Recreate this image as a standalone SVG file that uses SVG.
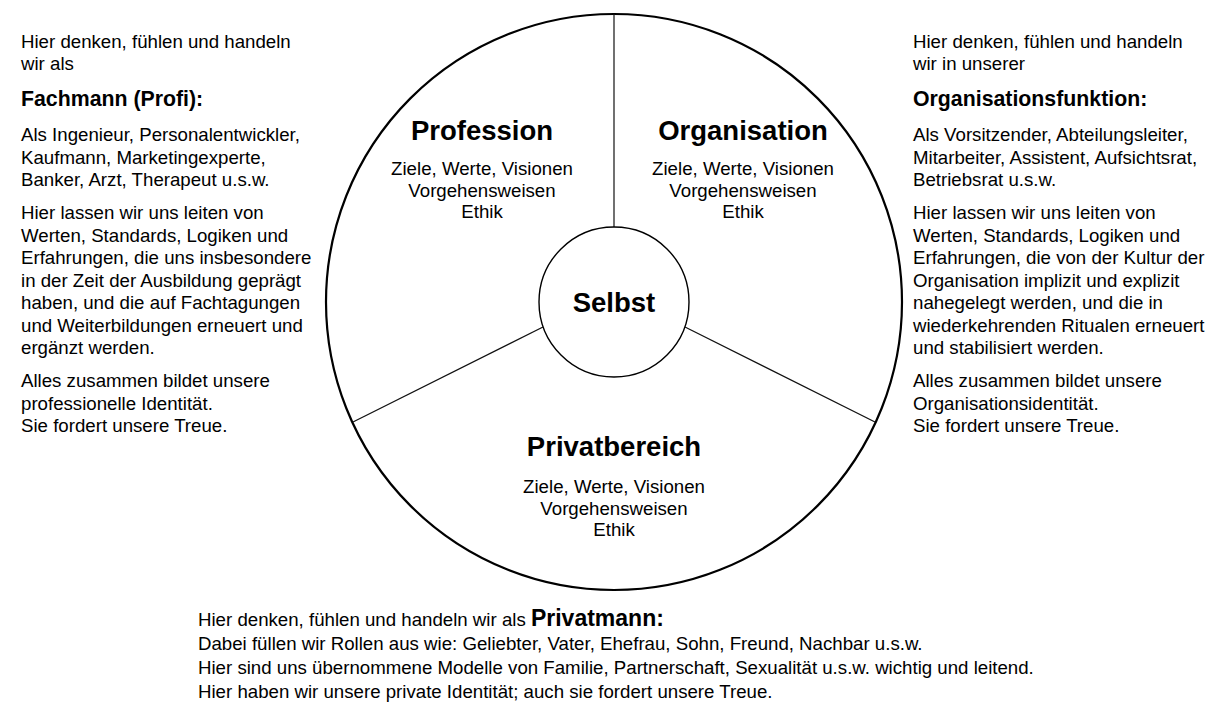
<svg xmlns="http://www.w3.org/2000/svg" width="1213" height="715" viewBox="0 0 1213 715">
<style>
text{font-family:"Liberation Sans",Arial,Helvetica,sans-serif;fill:#000}
.b{font-size:18.67px}
.h{font-size:21.3px;font-weight:bold}
.t{font-size:27.5px;font-weight:bold;text-anchor:middle}
.s{font-size:18.67px;text-anchor:middle}
.pb{font-size:23px;font-weight:bold}
.sep{stroke:#111;stroke-width:1.2;fill:none}
</style>
<rect width="1213" height="715" fill="#fff"/>
<g id="outer-circle"><circle cx="614" cy="302" r="288" fill="none" stroke="#000" stroke-width="2.2"/></g>
<g id="connectors">
<line class="sep" x1="614" y1="14" x2="614" y2="227"/>
<line class="sep" x1="543" y1="327" x2="353" y2="422"/>
<line class="sep" x1="685" y1="327" x2="875" y2="422"/>
</g>
<g id="selbst">
<circle cx="614" cy="302" r="75" fill="#fff" stroke="#000" stroke-width="1.4"/>
<text class="t" x="614" y="312">Selbst</text>
</g>
<g id="profession">
<text class="t" x="482" y="140">Profession</text>
<text class="s" x="482" y="175">Ziele, Werte, Visionen</text>
<text class="s" x="482" y="196.5">Vorgehensweisen</text>
<text class="s" x="482" y="218">Ethik</text>
</g>
<g id="organisation">
<text class="t" x="743" y="140">Organisation</text>
<text class="s" x="743" y="175">Ziele, Werte, Visionen</text>
<text class="s" x="743" y="196.5">Vorgehensweisen</text>
<text class="s" x="743" y="218">Ethik</text>
</g>
<g id="privatbereich">
<text class="t" x="614" y="456">Privatbereich</text>
<text class="s" x="614" y="493">Ziele, Werte, Visionen</text>
<text class="s" x="614" y="514.5">Vorgehensweisen</text>
<text class="s" x="614" y="536">Ethik</text>
</g>
<g id="left-text">
<text class="b" x="21" y="48">Hier denken, fühlen und handeln</text>
<text class="b" x="21" y="70">wir als</text>
<text class="h" x="21" y="106">Fachmann (Profi):</text>
<text class="b" x="21" y="141">Als Ingenieur, Personalentwickler,</text>
<text class="b" x="21" y="163.5">Kaufmann, Marketingexperte,</text>
<text class="b" x="21" y="186">Banker, Arzt, Therapeut u.s.w.</text>
<text class="b" x="21" y="219">Hier lassen wir uns leiten von</text>
<text class="b" x="21" y="241.5">Werten, Standards, Logiken und</text>
<text class="b" x="21" y="264">Erfahrungen, die uns insbesondere</text>
<text class="b" x="21" y="286.5">in der Zeit der Ausbildung geprägt</text>
<text class="b" x="21" y="309">haben, und die auf Fachtagungen</text>
<text class="b" x="21" y="331.5">und Weiterbildungen erneuert und</text>
<text class="b" x="21" y="354">ergänzt werden.</text>
<text class="b" x="21" y="387">Alles zusammen bildet unsere</text>
<text class="b" x="21" y="409.5">professionelle Identität.</text>
<text class="b" x="21" y="432">Sie fordert unsere Treue.</text>
</g>
<g id="right-text">
<text class="b" x="913" y="48">Hier denken, fühlen und handeln</text>
<text class="b" x="913" y="70">wir in unserer</text>
<text class="h" x="913" y="106">Organisationsfunktion:</text>
<text class="b" x="913" y="141">Als Vorsitzender, Abteilungsleiter,</text>
<text class="b" x="913" y="163.5">Mitarbeiter, Assistent, Aufsichtsrat,</text>
<text class="b" x="913" y="186">Betriebsrat u.s.w.</text>
<text class="b" x="913" y="219">Hier lassen wir uns leiten von</text>
<text class="b" x="913" y="241.5">Werten, Standards, Logiken und</text>
<text class="b" x="913" y="264">Erfahrungen, die von der Kultur der</text>
<text class="b" x="913" y="286.5">Organisation implizit und explizit</text>
<text class="b" x="913" y="309">nahegelegt werden, und die in</text>
<text class="b" x="913" y="331.5">wiederkehrenden Ritualen erneuert</text>
<text class="b" x="913" y="354">und stabilisiert werden.</text>
<text class="b" x="913" y="387">Alles zusammen bildet unsere</text>
<text class="b" x="913" y="409.5">Organisationsidentität.</text>
<text class="b" x="913" y="432">Sie fordert unsere Treue.</text>
</g>
<g id="bottom-text">
<text class="b" x="198" y="626">Hier denken, fühlen und handeln wir als <tspan class="pb">Privatmann:</tspan></text>
<text class="b" x="198" y="650">Dabei füllen wir Rollen aus wie: Geliebter, Vater, Ehefrau, Sohn, Freund, Nachbar u.s.w.</text>
<text class="b" x="198" y="674">Hier sind uns übernommene Modelle von Familie, Partnerschaft, Sexualität u.s.w. wichtig und leitend.</text>
<text class="b" x="198" y="698">Hier haben wir unsere private Identität; auch sie fordert unsere Treue.</text>
</g>
</svg>
